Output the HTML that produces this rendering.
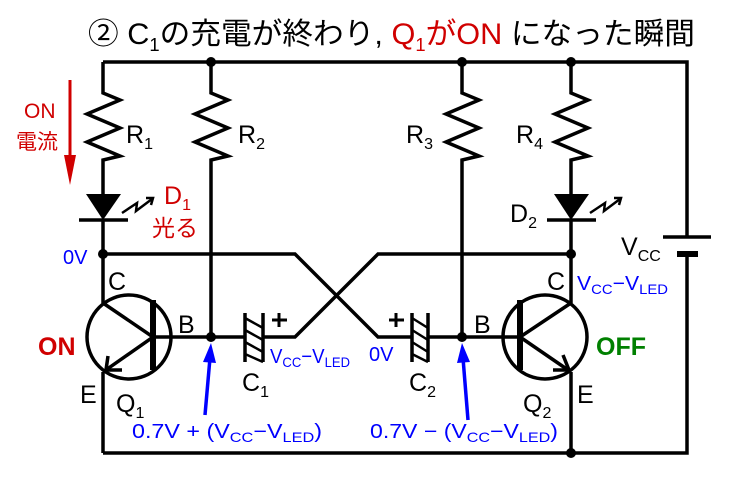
<!DOCTYPE html>
<html><head><meta charset="utf-8"><style>
html,body{margin:0;padding:0;background:#fff}
svg{display:block}
text{font-family:"Liberation Sans","Noto Sans CJK JP",sans-serif}
</style></head><body>
<svg width="729" height="477" viewBox="0 0 729 477" xmlns="http://www.w3.org/2000/svg">
<g stroke="#000" stroke-width="3.5" fill="none" stroke-linejoin="miter">
<path d="M103,62 H687 V237"/>
<path d="M687,254 V453 H103"/>
<path d="M103,62 V93 L120,100 L87,114 L120,128 L87,142 L120,156 L103,160 V194"/>
<path d="M103,220 V303"/>
<path d="M103,372 V453"/>
<path d="M211,62 V93 L228,100 L195,114 L228,128 L195,142 L228,156 L211,160 V337"/>
<path d="M462,62 V93 L479,100 L446,114 L479,128 L446,142 L479,156 L462,160 V337"/>
<path d="M571,62 V93 L588,100 L555,114 L588,128 L555,142 L588,156 L571,160 V194"/>
<path d="M571,220 V303"/>
<path d="M571,372 V453"/>
<path d="M103,254 H295 L378,337 H412"/>
<path d="M571,254 H378 L295,337 H263"/>
<path d="M211,337 H245"/>
<path d="M428,337 H462"/>
<circle cx="129" cy="337" r="42"/>
<path d="M153,337 H211"/>
<path d="M103,303 L153,337 L103,372"/>
<path d="M108,356 L106,370 L122,370"/>
<circle cx="545" cy="337" r="42"/>
<path d="M462,337 H520"/>
<path d="M571,303 L520,337 L571,372"/>
<path d="M553,370 L569,370 L563,355"/>
<path d="M663,237 H711" stroke-width="3.5"/>
<path d="M677,254 H698" stroke-width="6"/>
<path d="M79,220 H128"/>
<path d="M547,220 H596"/>
<path d="M122,213 L137,203 L136,211 L152,199" stroke-width="2.5"/>
<path d="M146,198 L153,198 L151,205" stroke-width="2.5"/>
<path d="M590,213 L605,203 L604,211 L620,199" stroke-width="2.5"/>
<path d="M614,198 L621,198 L619,205" stroke-width="2.5"/>
</g>
<rect x="150" y="300" width="6" height="70" fill="#000"/>
<rect x="517" y="300" width="6" height="70" fill="#000"/>
<path d="M86,194 H121 L103,220 z" fill="#000"/>
<path d="M554,194 H589 L571,220 z" fill="#000"/>
<g stroke="#000" stroke-width="3.5">
<path d="M245,313 V362 M263,313 V362"/>
<path d="M412,313 V362 M428,313 V362"/>
<path d="M245,318 L263,328 M245,330 L263,340 M245,342 L263,352 M245,354 L263,362" stroke-width="2.5"/>
<path d="M412,318 L428,328 M412,330 L428,340 M412,342 L428,352 M412,354 L428,362" stroke-width="2.5"/>
<path d="M272,320 H287 M279,313 V327 M389,320 H404 M396,313 V327" stroke-width="3"/>
</g>
<g fill="#000">
<circle cx="211" cy="62" r="5"/><circle cx="462" cy="62" r="5"/><circle cx="571" cy="62" r="5"/>
<circle cx="103" cy="254" r="5"/><circle cx="571" cy="254" r="5"/>
<circle cx="211" cy="337" r="5"/><circle cx="462" cy="337" r="5"/>
<circle cx="571" cy="453" r="5"/>
</g>
<path d="M70,80 V160" stroke="#d00000" stroke-width="3"/>
<path d="M64,155 L70,185 L76,155 z" fill="#d00000"/>
<path d="M205,415 L210,358" stroke="#0000ff" stroke-width="3.5"/>
<path d="M203,362 L211,343 L216,363 z" fill="#0000ff"/>
<path d="M468,420 L463,358" stroke="#0000ff" stroke-width="3.5"/>
<path d="M457,363 L462,343 L470,362 z" fill="#0000ff"/>
<text x="88" y="44" font-size="30" fill="#000" textLength="607" lengthAdjust="spacingAndGlyphs">② C<tspan font-size="18" dy="7">1</tspan><tspan dy="-7">の充電が終わり, </tspan><tspan fill="#d00000">Q<tspan font-size="18" dy="7">1</tspan><tspan dy="-7">がON</tspan></tspan> になった瞬間</text>
<g font-size="25" fill="#000">
<text x="126" y="143">R<tspan font-size="16" dy="6">1</tspan></text>
<text x="238" y="143">R<tspan font-size="16" dy="6">2</tspan></text>
<text x="406" y="143">R<tspan font-size="16" dy="6">3</tspan></text>
<text x="516" y="143">R<tspan font-size="16" dy="6">4</tspan></text>
<text x="510" y="222">D<tspan font-size="16" dy="6">2</tspan></text>
<text x="621" y="255">V<tspan font-size="16" dy="6">CC</tspan></text>
<text x="108" y="290">C</text>
<text x="547" y="290">C</text>
<text x="178" y="333">B</text>
<text x="474" y="333">B</text>
<text x="242" y="391">C<tspan font-size="16" dy="6">1</tspan></text>
<text x="409" y="391">C<tspan font-size="16" dy="6">2</tspan></text>
<text x="80" y="403">E</text>
<text x="577" y="403">E</text>
<text x="116" y="412">Q<tspan font-size="16" dy="6">1</tspan></text>
<text x="523" y="412">Q<tspan font-size="16" dy="6">2</tspan></text>
</g>
<g fill="#d00000">
<text x="164" y="204" font-size="25">D<tspan font-size="16" dy="6">1</tspan></text>
<text x="152" y="236" font-size="23">光る</text>
<text x="24" y="118" font-size="21">ON</text>
<text x="16" y="149" font-size="21">電流</text>
<text x="38" y="355" font-weight="bold" font-size="25">ON</text>
</g>
<text x="596" y="355" font-weight="bold" font-size="25" fill="#008000">OFF</text>
<g font-size="20" fill="#0000ff">
<text x="63" y="264">0V</text>
<text x="369" y="361">0V</text>
<text x="577" y="290" textLength="91" lengthAdjust="spacingAndGlyphs">V<tspan font-size="14" dy="4">CC</tspan><tspan dy="-4">−V</tspan><tspan font-size="14" dy="4">LED</tspan></text>
<text x="270" y="363" textLength="80" lengthAdjust="spacingAndGlyphs">V<tspan font-size="14" dy="4">CC</tspan><tspan dy="-4">−V</tspan><tspan font-size="14" dy="4">LED</tspan></text>
<text x="132" y="438" textLength="190" lengthAdjust="spacingAndGlyphs">0.7V + (V<tspan font-size="14" dy="4">CC</tspan><tspan dy="-4">−V</tspan><tspan font-size="14" dy="4">LED</tspan><tspan dy="-4">)</tspan></text>
<text x="370" y="438" textLength="188" lengthAdjust="spacingAndGlyphs">0.7V − (V<tspan font-size="14" dy="4">CC</tspan><tspan dy="-4">−V</tspan><tspan font-size="14" dy="4">LED</tspan><tspan dy="-4">)</tspan></text>
</g>
</svg>
</body></html>
